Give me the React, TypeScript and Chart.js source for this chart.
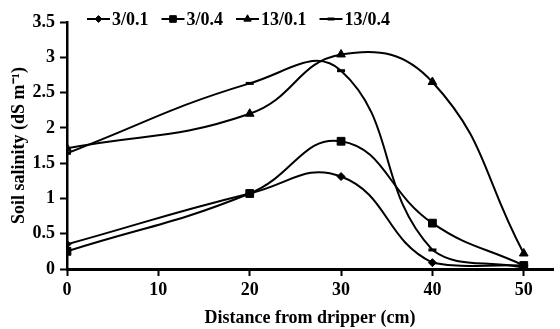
import React, { useEffect, useRef } from 'react';
import { Chart, registerables } from 'chart.js';

Chart.register(...registerables);

// ---- data ----
const distances = [0, 20, 30, 40, 50];
const seriesLabels = ['3/0.1', '3/0.4', '13/0.1', '13/0.4'];
const s3_01 = [0.35, 1.07, 1.31, 0.09, 0.05];
const s3_04 = [0.25, 1.07, 1.81, 0.65, 0.05];
const s13_01 = [1.71, 2.2, 3.04, 2.65, 0.22];
const s13_04 = [1.64, 2.63, 2.81, 0.27, 0.02];
const xTicks = [0, 10, 20, 30, 40, 50];
const yTicks = [0, 0.5, 1, 1.5, 2, 2.5, 3, 3.5];

const FONT_FAMILY = "'Liberation Serif', 'Times New Roman', serif";

const seriesValues = [s3_01, s3_04, s13_01, s13_04];
const pointStyles = ['rectRot', 'rect', 'triangle', 'line'];
const pointRadii = [4, 5.5, 5, 4];
const pointBorders = [1, 1, 1, 3];

function drawMarker(ctx: CanvasRenderingContext2D, style: string, x: number, y: number, r: number, bw: number) {
  ctx.save();
  ctx.fillStyle = '#000';
  ctx.strokeStyle = '#000';
  ctx.lineWidth = bw;
  ctx.beginPath();
  if (style === 'rectRot') {
    ctx.moveTo(x, y - r); ctx.lineTo(x + r, y); ctx.lineTo(x, y + r); ctx.lineTo(x - r, y); ctx.closePath();
    ctx.fill(); ctx.stroke();
  } else if (style === 'rect') {
    const s = r * Math.SQRT1_2;
    ctx.rect(x - s, y - s, 2 * s, 2 * s); ctx.fill(); ctx.stroke();
  } else if (style === 'triangle') {
    const h = r * 1.5;
    ctx.moveTo(x, y - h * 2 / 3); ctx.lineTo(x + r * 0.866, y + h / 3); ctx.lineTo(x - r * 0.866, y + h / 3); ctx.closePath();
    ctx.fill(); ctx.stroke();
  } else {
    ctx.moveTo(x - r, y); ctx.lineTo(x + r, y); ctx.stroke();
  }
  ctx.restore();
}

const legendPlugin = {
  id: 'customLegend',
  afterDraw(chart: any) {
    const ctx = chart.ctx as CanvasRenderingContext2D;
    ctx.save();
    ctx.font = `bold 18px ${FONT_FAMILY}`;
    ctx.textBaseline = 'middle';
    ctx.fillStyle = '#000';
    let x = 87;
    const y = 19;
    chart.data.datasets.forEach((ds: any, i: number) => {
      const lineLen = 23;
      ctx.strokeStyle = '#000';
      ctx.lineWidth = 2;
      ctx.beginPath();
      ctx.moveTo(x, y);
      ctx.lineTo(x + lineLen, y);
      ctx.stroke();
      drawMarker(ctx, pointStyles[i], x + lineLen / 2, y, pointRadii[i] * 0.85, pointBorders[i]);
      ctx.fillText(ds.label, x + lineLen + 2, y + 1);
      const w = ctx.measureText(ds.label).width;
      x += lineLen + 2 + w + 13;
    });
    ctx.restore();
  },
};

export default function App() {
  const ref = useRef<HTMLCanvasElement>(null);
  useEffect(() => {
    if (!ref.current) return;
    const datasets = seriesLabels.map((label, i) => ({
      label,
      data: distances.map((d, j) => ({ x: d, y: seriesValues[i][j] })),
      borderColor: '#000',
      backgroundColor: '#000',
      borderWidth: 2,
      tension: 0.45,
      pointStyle: pointStyles[i],
      pointRadius: pointRadii[i],
      pointBorderWidth: pointBorders[i],
      pointBackgroundColor: '#000',
      pointBorderColor: '#000',
    }));
    const font = { family: FONT_FAMILY, size: 18, weight: 'bold' as const };
    const chart = new Chart(ref.current, {
      type: 'line',
      data: { datasets },
      options: {
        animation: false,
        responsive: false,
        devicePixelRatio: 1,
        layout: { padding: { top: 22, right: 4, left: 0, bottom: 0 } },
        plugins: { legend: { display: false }, tooltip: { enabled: false } },
        scales: {
          x: {
            type: 'linear',
            min: 0,
            max: 53.2,
            afterBuildTicks: (axis: any) => {
              axis.ticks = xTicks.map((v) => ({ value: v }));
            },
            afterFit: (scale: any) => { scale.height = 60; },
            grid: { drawOnChartArea: false, drawTicks: true, tickLength: 7, tickWidth: 2, tickColor: '#000' },
            border: { display: true, color: '#000', width: 3 },
            ticks: { color: '#000', font, padding: 4, maxRotation: 0 },
            title: { display: true, text: 'Distance from dripper (cm)', color: '#000', font, padding: { top: 0, bottom: 0 } },
          },
          y: {
            min: 0,
            max: 3.5,
            afterBuildTicks: (axis: any) => {
              axis.ticks = yTicks.map((v) => ({ value: v }));
            },
            afterFit: (scale: any) => { scale.width = 67; },
            grid: { drawOnChartArea: false, drawTicks: true, tickLength: 7, tickWidth: 2, tickColor: '#000' },
            border: { display: true, color: '#000', width: 2.5 },
            ticks: { color: '#000', font, padding: 5, callback: (v: any) => String(v) },
            title: { display: true, text: 'Soil salinity (dS m⁻¹)', color: '#000', font, padding: { top: 9, bottom: 0 } },
          },
        },
      },
      plugins: [legendPlugin],
    });
    return () => chart.destroy();
  }, []);
  return (
    <div style={{ position: 'absolute', left: 0, top: 0, width: 560, height: 329, background: '#fff' }}>
      <canvas ref={ref} width={560} height={329} />
    </div>
  );
}
